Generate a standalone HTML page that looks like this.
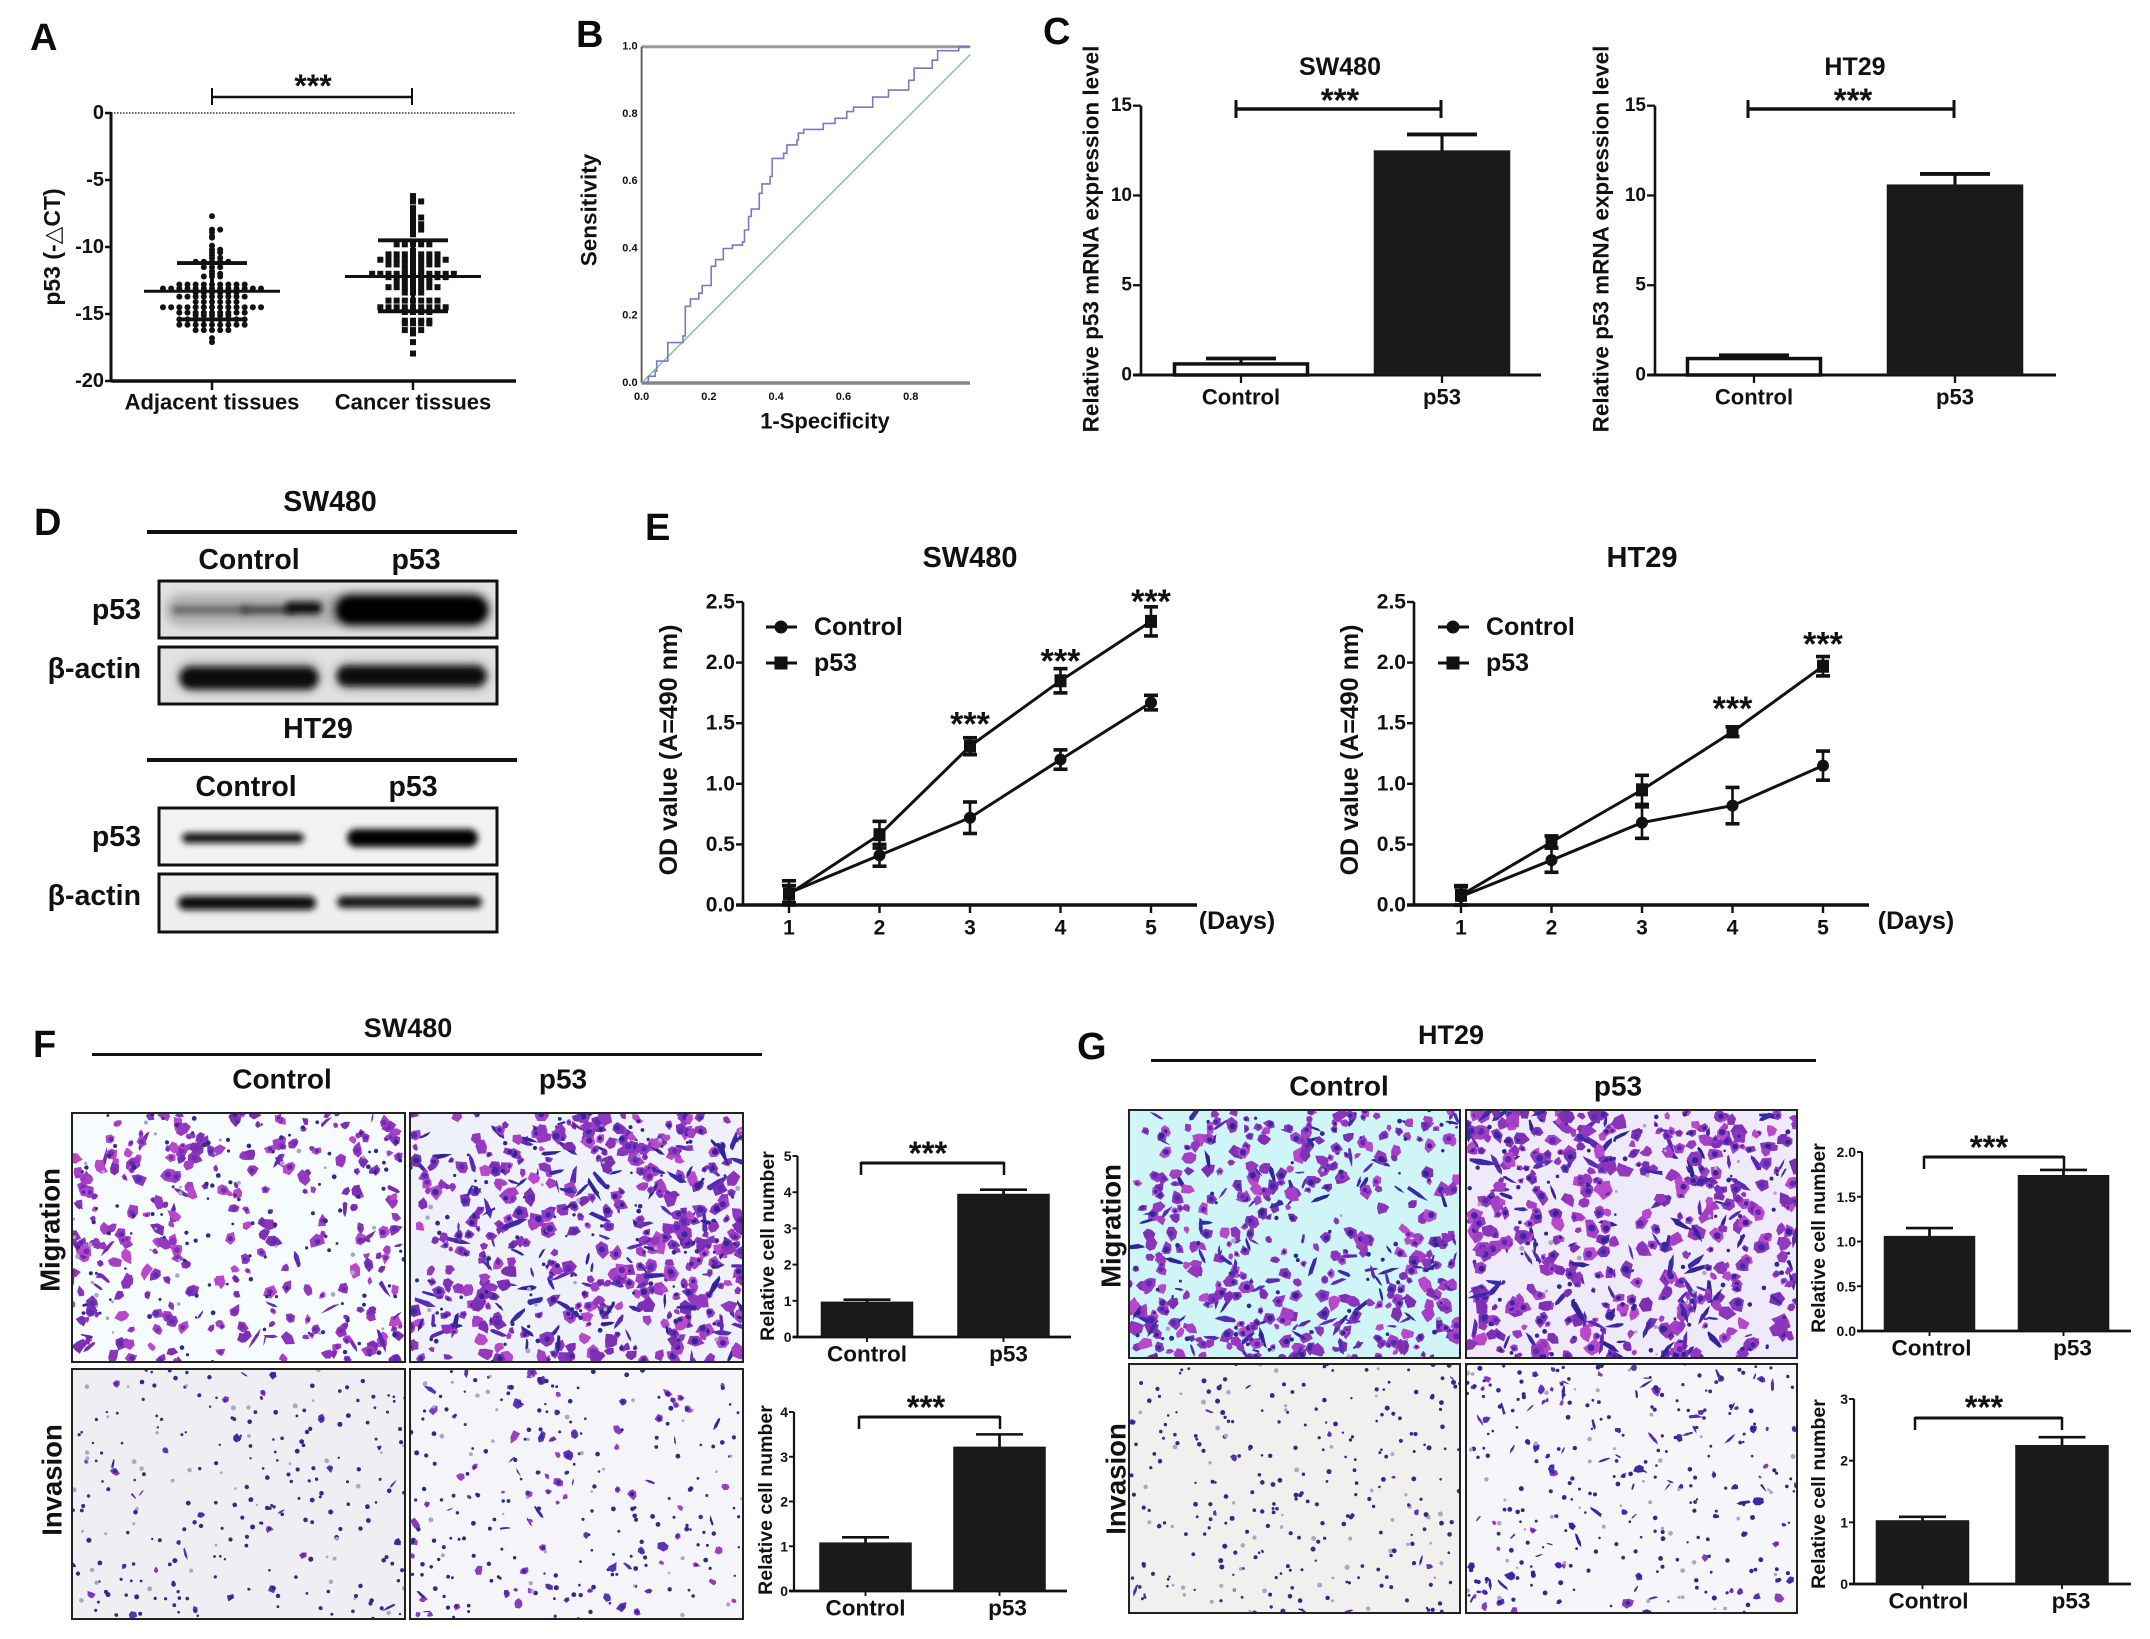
<!DOCTYPE html>
<html lang="en">
<head>
<meta charset="utf-8">
<title>p53 expression figure</title>
<style>
html,body{margin:0;padding:0;background:#fff;}
#figure{display:block;width:2150px;height:1639px;}
text{font-family:"Liberation Sans","DejaVu Sans",sans-serif;font-weight:bold;fill:#111;}
.panel{font-size:38px;fill:#0c0c0c;}
.head{font-size:28.5px;text-anchor:middle;dominant-baseline:central;}
.title{font-size:25px;text-anchor:middle;dominant-baseline:central;}
.side{font-size:28.5px;text-anchor:end;dominant-baseline:central;}
.rot{text-anchor:middle;dominant-baseline:central;}
</style>
</head>
<body>
<svg id="figure" xmlns="http://www.w3.org/2000/svg" width="2150" height="1639" viewBox="0 0 2150 1639">
  <defs>
    <filter id="blur1" x="-30%" y="-100%" width="160%" height="300%"><feGaussianBlur stdDeviation="1.6"/></filter>
    <filter id="blur2" x="-30%" y="-100%" width="160%" height="300%"><feGaussianBlur stdDeviation="3.2"/></filter>
    <filter id="blur3" x="-30%" y="-100%" width="160%" height="300%"><feGaussianBlur stdDeviation="5"/></filter>
  </defs>
  <rect x="0" y="0" width="2150" height="1639" fill="#fff"/>

  <text class="panel" x="30" y="50">A</text>
  <text class="panel" x="576" y="47">B</text>
  <text class="panel" x="1043" y="44">C</text>
  <text class="panel" x="34" y="535">D</text>
  <text class="panel" x="645" y="540">E</text>
  <text class="panel" x="33" y="1057">F</text>
  <text class="panel" x="1077" y="1059">G</text>

  <!-- Panel A labels -->
  <text class="rot" font-size="23" transform="translate(52 247) rotate(-90)">p53 (-△CT)</text>

  <!-- Panel B labels -->
  <text class="rot" font-size="22.5" transform="translate(589 210) rotate(-90)">Sensitivity</text>
  <text class="rot" font-size="22" x="825" y="421">1-Specificity</text>

  <!-- Panel C labels -->
  <text class="title" x="1340" y="67">SW480</text>
  <text class="title" x="1855" y="67">HT29</text>
  <text class="rot" font-size="22.5" transform="translate(1091 239) rotate(-90)">Relative p53 mRNA expression level</text>
  <text class="rot" font-size="22.5" transform="translate(1601 239) rotate(-90)">Relative p53 mRNA expression level</text>

  <!-- Panel D -->
  <text class="head" x="330" y="502">SW480</text>
  <rect x="147" y="530" width="370" height="4" fill="#111"/>
  <text class="head" x="249" y="560">Control</text>
  <text class="head" x="416" y="560">p53</text>
  <text class="side" x="141" y="610">p53</text>
  <text class="side" x="141" y="669">β-actin</text>
  <text class="head" x="318" y="729">HT29</text>
  <rect x="147" y="758" width="370" height="4" fill="#111"/>
  <text class="head" x="246" y="787">Control</text>
  <text class="head" x="413" y="787">p53</text>
  <text class="side" x="141" y="837">p53</text>
  <text class="side" x="141" y="896">β-actin</text>

  <!-- Panel E titles -->
  <text class="title" x="976" y="558" style="font-size:29px" transform="translate(-6 0)">SW480</text>
  <text class="title" x="1642" y="558" style="font-size:29px">HT29</text>
  <text class="rot" font-size="25" transform="translate(669 750) rotate(-90)">OD value (A=490 nm)</text>
  <text class="rot" font-size="25" transform="translate(1350 750) rotate(-90)">OD value (A=490 nm)</text>
  <text class="rot" font-size="25" x="1237" y="921">(Days)</text>
  <text class="rot" font-size="25" x="1916" y="921">(Days)</text>

  <!-- Panel F heads -->
  <text class="head" x="408" y="1028" style="font-size:27px">SW480</text>
  <rect x="92" y="1053" width="670" height="3" fill="#111"/>
  <text class="head" x="282" y="1079" style="font-size:28px">Control</text>
  <text class="head" x="563" y="1079" style="font-size:28px">p53</text>
  <text class="rot" font-size="27.5" transform="translate(50 1230) rotate(-90)">Migration</text>
  <text class="rot" font-size="27.5" transform="translate(52 1480) rotate(-90)">Invasion</text>

  <!-- Panel G heads -->
  <text class="head" x="1451" y="1035" style="font-size:27px">HT29</text>
  <rect x="1151" y="1059" width="665" height="3" fill="#111"/>
  <text class="head" x="1339" y="1086" style="font-size:28px">Control</text>
  <text class="head" x="1618" y="1086" style="font-size:28px">p53</text>
  <text class="rot" font-size="27.5" transform="translate(1111 1226) rotate(-90)">Migration</text>
  <text class="rot" font-size="27.5" transform="translate(1116 1479) rotate(-90)">Invasion</text>

  <g id="photos"></g>
  <g id="blots"></g>
  <g id="charts"></g>
</svg>

<script>
/* ---------- Panel A data ---------- */
const scatterCategories = ['Adjacent tissues', 'Cancer tissues'];
const scatterTicks = ['0', '-5', '-10', '-15', '-20'];
const adjacentValues = [-7.7,-8.7,-8.7,-8.9,-9.2,-9.3,-9.9,-10.2,-10.2,-10.4,-10.4,-10.6,-10.8,-10.8,
  -11.1,-11.1,-11.1,-11.1,-11.1,-11.5,-11.5,-11.5,-11.8,-12,-12,-12.2,-12.2,-12.2,
  -12.8,-12.8,-12.8,-12.8,-12.8,-12.8,-12.8,-12.8,-12.8,
  -13.1,-13.1,-13.1,-13.1,-13.1,-13.1,-13.1,-13.1,-13.1,-13.1,-13.1,-13.1,-13.1,
  -13.4,-13.4,-13.4,-13.4,-13.4,-13.4,-13.7,-13.7,-13.7,-13.7,-13.7,-13.7,-13.7,-13.7,-13.7,
  -14.1,-14.1,-14.1,-14.1,-14.1,-14.1,
  -14.5,-14.5,-14.5,-14.5,-14.5,-14.5,-14.5,-14.5,-14.5,-14.5,-14.5,-14.5,-14.5,
  -14.9,-14.9,-14.9,-14.9,-14.9,-14.9,-14.9,-14.9,-14.9,-15.1,-15.1,-15.1,-15.1,-15.1,
  -15.4,-15.4,-15.4,-15.4,-15.4,-15.4,-15.4,-15.4,-15.4,
  -15.8,-15.8,-15.8,-15.8,-15.8,-15.8,-15.8,-15.8,-15.8,
  -16.2,-16.2,-16.2,-16.2,-16.2,-16.8,-17.1];
const cancerValues = [-6.2,-6.4,-6.6,-6.6,-7.1,-7.4,-7.8,-7.8,-7.9,-8.3,-8.3,-8.7,-8.7,-9.05,
  -9.8,-9.8,-9.8,-9.8,-9.8,-10.3,
  -10.55,-10.55,-10.55,-10.55,-10.55,-10.55,-10.55,
  -10.95,-10.95,-10.95,-10.95,-10.95,-10.95,-10.95,-10.95,-10.95,
  -11.3,-11.3,-11.3,-11.3,-11.3,-11.3,-11.3,-11.7,-11.7,-11.7,
  -12,-12,-12,-12,-12,-12,-12,-12,-12,-12,-12,
  -12.25,-12.25,-12.25,-12.25,-12.25,-12.25,-12.25,-12.25,
  -12.6,-12.6,-12.6,-12.6,-12.6,-13,-13,-13,-13,-13,-13,-13,-13.4,-13.4,-13.4,
  -14,-14,-14,-14,-14,-14,-14,-14.5,-14.5,-14.5,-14.5,-14.5,-14.5,-14.5,-14.5,-14.5,
  -14.85,-14.85,-14.85,-14.85,-15.5,-15.5,-15.5,-15.5,-15.7,-15.7,-15.7,-15.7,
  -16.2,-16.2,-16.2,-16.45,-17.1,-17.95];
const scatterMeans = [-13.3, -12.2];
const scatterUpper = [-11.2, -9.5];
const scatterLower = [-15.4, -14.8];

/* ---------- Panel B data ---------- */
const rocTicks = ['0.0', '0.2', '0.4', '0.6', '0.8', '1.0'];
const rocFpr = [0,.02,.04,.045,.078,.123,.13,.145,.17,.18,.207,.22,.243,.27,.30,.306,.318,.326,.35,.358,.382,.388,.422,.432,.462,.466,.482,.54,.575,.61,.63,.687,.734,.794,.81,.864,.88,.943,.977];
const rocSens = [0,.02,.035,.065,.12,.14,.228,.25,.267,.29,.347,.367,.40,.41,.42,.455,.495,.517,.564,.592,.614,.668,.683,.708,.723,.743,.754,.772,.787,.807,.82,.85,.871,.9,.936,.96,.988,1,1];
const rocReference = [0, .977];

/* ---------- Panel C data ---------- */
const barCategories = ['Control', 'p53'];
const qpcrTicks = ['0', '5', '10', '15'];
const qpcrSwValues = [0.7, 12.5];
const qpcrSwErrors = [0.22, 0.9];
const qpcrHtValues = [1.0, 10.6];
const qpcrHtErrors = [0.1, 0.6];

/* ---------- Panel E data ---------- */
const dayTicks = ['1', '2', '3', '4', '5'];
const odTicks = ['0.0', '0.5', '1.0', '1.5', '2.0', '2.5'];
const odSwControl = [0.1, 0.41, 0.72, 1.2, 1.67];
const odSwControlErr = [0.1, 0.09, 0.13, 0.08, 0.06];
const odSwP53 = [0.09, 0.58, 1.31, 1.85, 2.34];
const odSwP53Err = [0.07, 0.11, 0.07, 0.1, 0.12];
const odSwStarDays = [3, 4, 5];
const odSwStarLevels = [1.53, 2.05, 2.54];
const odHtControl = [0.07, 0.37, 0.68, 0.82, 1.15];
const odHtControlErr = [0.08, 0.1, 0.13, 0.15, 0.12];
const odHtP53 = [0.08, 0.52, 0.95, 1.43, 1.97];
const odHtP53Err = [0.08, 0.05, 0.12, 0.04, 0.08];
const odHtStarDays = [4, 5];
const odHtStarLevels = [1.66, 2.19];

/* ---------- Panels F / G data ---------- */
const cellF1Ticks = ['0', '1', '2', '3', '4', '5'];
const cellF1Values = [0.97, 3.95];
const cellF1Errors = [0.06, 0.12];
const cellF2Ticks = ['0', '1', '2', '3', '4'];
const cellF2Values = [1.08, 3.22];
const cellF2Errors = [0.12, 0.28];
const cellG1Ticks = ['0.0', '0.5', '1.0', '1.5', '2.0'];
const cellG1Values = [1.06, 1.74];
const cellG1Errors = [0.09, 0.06];
const cellG2Ticks = ['0', '1', '2', '3'];
const cellG2Values = [1.03, 2.25];
const cellG2Errors = [0.06, 0.13];

/* ---------- helpers ---------- */
const NS = 'http://www.w3.org/2000/svg';
const chartsRoot = document.getElementById('charts');
const blotsRoot = document.getElementById('blots');
const photosRoot = document.getElementById('photos');
function linear(d0, d1, r0, r1) { return v => r0 + (v - d0) * (r1 - r0) / (d1 - d0); }
function add(parent, tag, attrs, txt) {
  const el = document.createElementNS(NS, tag);
  for (const k in attrs) el.setAttribute(k, attrs[k]);
  if (txt !== undefined) el.textContent = txt;
  parent.appendChild(el);
  return el;
}
function group(parent, name) {
  const g = add(parent, 'g', {});
  
  
  return g;
}
function rule(parent, x1, y1, x2, y2, w, name, color) {
  const el = add(parent, 'line', {x1, y1, x2, y2, stroke: color || '#111', 'stroke-width': w});
  
  
  return el;
}
function label(parent, x, y, str, size, anchor, name) {
  const el = add(parent, 'text', {x, y, 'font-size': size, 'text-anchor': anchor, 'dominant-baseline': 'central'}, str);
  
  
  return el;
}
function stars(parent, cx, cy, size, name) {
  const el = add(parent, 'text', {x: cx, y: cy + size * 0.47, 'font-size': size, 'text-anchor': 'middle'}, '***');
  
  
  return el;
}

/* ---------- Panel A ---------- */
function swarm(values) {
  const seen = {};
  return values.map(v => {
    const n = seen[v] || 0;
    seen[v] = n + 1;
    return {v, slot: n === 0 ? 0 : (n % 2 ? (n + 1) / 2 : -n / 2)};
  });
}
(function drawScatter() {
  const g = group(chartsRoot, 'panel-a-scatter-plot');
  const y = linear(0, -20, 113, 381);
  const xLeft = 111, xRight = 516;
  const centers = [212, 413];
  const step = 8.17;
  const dotted = rule(g, xLeft, y(0), xRight, y(0), 1.6, 'zero-reference-line', '#333');
  dotted.setAttribute('stroke-dasharray', '1.5 1.5');
  rule(g, xLeft, y(0) - 1, xLeft, y(-20) + 1, 3, 'y-axis');
  rule(g, xLeft, y(-20), xRight, y(-20), 3.5, 'x-axis');
  scatterTicks.forEach(t => {
    const v = Number(t);
    rule(g, xLeft - 6, y(v), xLeft, y(v), 2.5, 'y-tick');
    label(g, xLeft - 7, y(v), t, 20, 'end', 'y-tick-label');
  });
  scatterCategories.forEach((c, i) => {
    rule(g, centers[i], y(-20), centers[i], y(-20) + 9, 2.5, 'x-tick');
    label(g, centers[i], 402, c, 22, 'middle', 'x-tick-label');
  });
  swarm(adjacentValues).forEach(p => {
    const dot = add(g, 'circle', {cx: centers[0] + p.slot * step, cy: y(p.v), r: 3, fill: '#111'});
    
    
  });
  swarm(cancerValues).forEach(p => {
    const sq = add(g, 'rect', {x: centers[1] + p.slot * step - 3, y: y(p.v) - 3, width: 6, height: 6, fill: '#111'});
    
    
  });
  const halfMean = 68, halfSd = 35;
  scatterMeans.forEach((m, i) => {
    rule(g, centers[i] - halfMean, y(m), centers[i] + halfMean, y(m), 3, 'mean-line');
    rule(g, centers[i], y(scatterUpper[i]), centers[i], y(scatterLower[i]), 4, 'sd-range');
    rule(g, centers[i] - halfSd, y(scatterUpper[i]), centers[i] + halfSd, y(scatterUpper[i]), 3.8, 'sd-upper-cap');
    rule(g, centers[i] - halfSd, y(scatterLower[i]), centers[i] + halfSd, y(scatterLower[i]), 3.8, 'sd-lower-cap');
  });
  rule(g, centers[0], 97, 412, 97, 2.5, 'significance-bracket');
  rule(g, centers[0], 88, centers[0], 105, 2, 'significance-bracket-end');
  rule(g, 412, 88, 412, 105, 2, 'significance-bracket-end');
  stars(g, 313, 82, 32, 'significance-stars');
})();

/* ---------- Panel B ---------- */
(function drawRoc() {
  const g = group(chartsRoot, 'panel-b-roc-curve');
  const x = linear(0, 1, 641.6, 978);
  const y = linear(0, 1, 383, 46.7);
  const right = 970;
  rule(g, x(0), y(1), right, y(1), 3, 'plot-top-border', '#999');
  rule(g, x(0), y(0), right, y(0), 3.5, 'x-axis', '#888');
  rule(g, x(0), y(0), x(0), y(1), 1.8, 'y-axis', '#555');
  rocTicks.forEach(t => {
    const v = Number(t);
    label(g, x(0) - 4, y(v), t, 11, 'end', 'y-tick-label');
    if (v < 1) label(g, x(v), 397, t, 11, 'middle', 'x-tick-label');
  });
  const ref = rule(g, x(rocReference[0]), y(rocReference[0]), x(rocReference[1]), y(rocReference[1]), 1.6, 'chance-diagonal', '#8ec89c');
  ref.setAttribute('fill', 'none');
  let d = 'M' + x(rocFpr[0]) + ' ' + y(rocSens[0]);
  rocFpr.forEach((f, i) => {
    if (i === 0) return;
    d += ' H' + x(f).toFixed(1) + ' V' + y(rocSens[i]).toFixed(1);
  });
  const curve = add(g, 'path', {d, fill: 'none', stroke: '#767cbe', 'stroke-width': 1.6});
  
  
})();

/* ---------- bar charts ---------- */
function drawBars(c) {
  const g = group(chartsRoot, c.name);
  const top = Number(c.ticks[c.ticks.length - 1]);
  const y = linear(0, top, c.y0, c.yTop);
  const cx = i => c.x0 + i * c.step;
  rule(g, c.axis, c.y0 + 1, c.axis, c.yTop, c.axisW, 'y-axis');
  rule(g, c.axis - c.tick, c.y0, c.xEnd, c.y0, c.axisW + 0.5, 'x-axis');
  c.ticks.forEach(t => {
    const v = Number(t);
    rule(g, c.axis - c.tick, y(v), c.axis, y(v), c.axisW - 0.3, 'y-tick');
    label(g, c.axis - c.tick - 1, y(v), t, c.tickFont, 'end', 'y-tick-label');
  });
  c.cats.forEach((cat, i) => {
    const v = c.vals[i], top2 = y(v + c.errs[i]);
    rule(g, cx(i), top2, cx(i), y(v), c.axisW + 0.5, 'error-bar');
    rule(g, cx(i) - c.cap / 2, top2, cx(i) + c.cap / 2, top2, c.capW, 'error-bar-cap');
    const hollow = c.hollow && i === 0;
    const b = add(g, 'rect', {
      x: cx(i) - c.barW / 2 + (hollow ? 1.5 : 0), y: y(v) + (hollow ? 1.5 : 0),
      width: c.barW - (hollow ? 3 : 0), height: c.y0 - y(v) - (hollow ? 1.5 : 0),
      fill: hollow ? '#fff' : '#1a1a1a', stroke: '#111', 'stroke-width': hollow ? 3.5 : 0.5
    });
    
    
    rule(g, cx(i), c.y0, cx(i), c.y0 + c.xTick, c.axisW - 0.3, 'x-tick');
    label(g, cx(i) + (c.labelShift ? c.labelShift[i] : 0), c.y0 + c.labelOff, cat, c.catFont, 'middle', 'x-tick-label');
  });
  const br = c.bracket;
  rule(g, br.x1, br.y, br.x2, br.y, br.w, 'significance-bracket');
  rule(g, br.x1, br.top, br.x1, br.bottom, br.w - 0.5, 'significance-bracket-end');
  rule(g, br.x2, br.top, br.x2, br.bottom, br.w - 0.5, 'significance-bracket-end');
  stars(g, br.starX, br.starY, c.starFont, 'significance-stars');
  if (c.yTitle) {
    const yt = add(g, 'text', {'font-size': c.yTitle.size, 'text-anchor': 'middle', 'dominant-baseline': 'central',
      transform: 'translate(' + c.yTitle.x + ' ' + c.yTitle.y + ') rotate(-90)'}, 'Relative cell number');
    
    
  }
}
const qpcrStyle = {cats: barCategories, ticks: qpcrTicks, y0: 375, yTop: 105.7, tick: 8, xTick: 8, axisW: 2.6, barW: 136, cap: 70, capW: 3.8, tickFont: 19, catFont: 22, labelOff: 22, starFont: 33, hollow: true};
drawBars(Object.assign({}, qpcrStyle, {name: 'panel-c-sw480-bar-chart', vals: qpcrSwValues, errs: qpcrSwErrors, axis: 1141, xEnd: 1541, x0: 1241, step: 201,
  bracket: {x1: 1236, x2: 1441, y: 109, top: 100, bottom: 118, w: 3.5, starX: 1340, starY: 96}}));
drawBars(Object.assign({}, qpcrStyle, {name: 'panel-c-ht29-bar-chart', vals: qpcrHtValues, errs: qpcrHtErrors, axis: 1655, xEnd: 2056, x0: 1754, step: 201,
  bracket: {x1: 1748, x2: 1954, y: 109, top: 100, bottom: 118, w: 3.5, starX: 1853, starY: 96}}));
const cellStyle = {cats: barCategories, tick: 5, xTick: 5, axisW: 2.2, cap: 47, capW: 2.6, tickFont: 14, catFont: 22.5, labelOff: 17, starFont: 33, barW: 92};
drawBars(Object.assign({}, cellStyle, {name: 'panel-f-migration-bar-chart', ticks: cellF1Ticks, vals: cellF1Values, errs: cellF1Errors, axis: 797.5, xEnd: 1071, x0: 867, step: 136.5, y0: 1337, yTop: 1156,
  labelShift: [0, 5], yTitle: {x: 768, y: 1246, size: 19.5},
  bracket: {x1: 861, x2: 1004, y: 1163, top: 1162, bottom: 1175, w: 3, starX: 928, starY: 1149}}));
drawBars(Object.assign({}, cellStyle, {name: 'panel-f-invasion-bar-chart', ticks: cellF2Ticks, vals: cellF2Values, errs: cellF2Errors, axis: 794, xEnd: 1067, x0: 865.5, step: 134, y0: 1591, yTop: 1412,
  labelShift: [0, 8], yTitle: {x: 766, y: 1500, size: 19.5},
  bracket: {x1: 859, x2: 1000, y: 1417, top: 1416, bottom: 1429, w: 3, starX: 926, starY: 1403}}));
drawBars(Object.assign({}, cellStyle, {name: 'panel-g-migration-bar-chart', ticks: cellG1Ticks, vals: cellG1Values, errs: cellG1Errors, axis: 1862, xEnd: 2131, x0: 1929.5, step: 134, y0: 1331, yTop: 1152, barW: 91,
  labelShift: [2, 9], yTitle: {x: 1819, y: 1238, size: 19.5},
  bracket: {x1: 1924, x2: 2064, y: 1157, top: 1156, bottom: 1169, w: 3, starX: 1989, starY: 1143}}));
drawBars(Object.assign({}, cellStyle, {name: 'panel-g-invasion-bar-chart', ticks: cellG2Ticks, vals: cellG2Values, errs: cellG2Errors, axis: 1854, xEnd: 2131, x0: 1922.5, step: 139.5, y0: 1584, yTop: 1399, barW: 93,
  labelShift: [6, 9], yTitle: {x: 1819, y: 1494, size: 19.5},
  bracket: {x1: 1915, x2: 2062, y: 1418, top: 1417, bottom: 1430, w: 3, starX: 1984, starY: 1403}}));

/* ---------- Panel E line charts ---------- */
function drawLines(c) {
  const g = group(chartsRoot, c.name);
  const y = linear(0, 2.5, 905, 602);
  const x = linear(1, 5, c.x1, c.x5);
  rule(g, c.axis, 906, c.axis, 602, 2.6, 'y-axis');
  rule(g, c.axis - 7, 905, c.xEnd, 905, 3.5, 'x-axis');
  odTicks.forEach(t => {
    rule(g, c.axis - 7, y(Number(t)), c.axis, y(Number(t)), 2.4, 'y-tick');
    label(g, c.axis - 8, y(Number(t)), t, 21, 'end', 'y-tick-label');
  });
  dayTicks.forEach(t => {
    rule(g, x(Number(t)), 905, x(Number(t)), 913, 2.4, 'x-tick');
    label(g, x(Number(t)), 928, t, 21, 'middle', 'x-tick-label');
  });
  function series(vals, errs, kind) {
    const s = group(g, 'series-' + kind);
    const pts = vals.map((v, i) => x(i + 1).toFixed(1) + ',' + y(v).toFixed(1)).join(' ');
    const pl = add(s, 'polyline', {points: pts, fill: 'none', stroke: '#111', 'stroke-width': 3});
    
    
    vals.forEach((v, i) => {
      const px = x(i + 1);
      const lo = Math.max(v - errs[i], 0);
      rule(s, px, y(v + errs[i]), px, y(lo), 2.6, kind + '-error-bar');
      rule(s, px - 7, y(v + errs[i]), px + 7, y(v + errs[i]), 3.6, kind + '-error-cap');
      rule(s, px - 7, y(lo), px + 7, y(lo), 3.6, kind + '-error-cap');
      let m;
      if (kind === 'control') m = add(s, 'circle', {cx: px, cy: y(v), r: 6, fill: '#111'});
      else m = add(s, 'rect', {x: px - 6, y: y(v) - 6.5, width: 12, height: 13, fill: '#111'});
      
      
    });
  }
  series(c.control, c.controlErr, 'control');
  series(c.p53, c.p53Err, 'p53');
  c.starDays.forEach((d, i) => stars(g, x(d), y(c.starLevels[i]), 34, 'significance-stars'));
  rule(g, c.legendX - 15, 627, c.legendX + 16, 627, 3, 'legend-control-line');
  const m1 = add(g, 'circle', {cx: c.legendX, cy: 627, r: 6.5, fill: '#111'});
  
  
  label(g, c.legendX + 33, 627, 'Control', 25, 'start', 'legend-control-label');
  rule(g, c.legendX - 15, 663, c.legendX + 16, 663, 3, 'legend-p53-line');
  const m2 = add(g, 'rect', {x: c.legendX - 6.5, y: 656.5, width: 13, height: 13, fill: '#111'});
  
  
  label(g, c.legendX + 33, 663, 'p53', 25, 'start', 'legend-p53-label');
}
drawLines({name: 'panel-e-sw480-line-chart', axis: 743, xEnd: 1197, x1: 789, x5: 1151, legendX: 781,
  control: odSwControl, controlErr: odSwControlErr, p53: odSwP53, p53Err: odSwP53Err, starDays: odSwStarDays, starLevels: odSwStarLevels});
drawLines({name: 'panel-e-ht29-line-chart', axis: 1414, xEnd: 1869, x1: 1461, x5: 1823, legendX: 1453,
  control: odHtControl, controlErr: odHtControlErr, p53: odHtP53, p53Err: odHtP53Err, starDays: odHtStarDays, starLevels: odHtStarLevels});

/* ---------- Panel D western blots ---------- */
function blot(name, x, y, w, h, bg, bands) {
  const g = group(blotsRoot, name);
  const clipId = name + '-clip';
  const cp = add(blotsRoot, 'clipPath', {id: clipId});
  add(cp, 'rect', {x, y, width: w, height: h});
  const inner = add(g, 'g', {'clip-path': 'url(#' + clipId + ')'});
  const back = add(inner, 'rect', {x, y, width: w, height: h, fill: bg});
  
  
  bands.forEach(b => {
    const band = add(inner, 'rect', {x: b[0], y: b[1] - b[3], width: b[2] - b[0], height: b[3] * 2, rx: b[3], ry: b[3], fill: b[4], filter: 'url(#' + b[5] + ')'});
    
    
  });
  const frame = add(g, 'rect', {x, y, width: w, height: h, fill: 'none', stroke: '#111', 'stroke-width': 3});
  
  
}
blot('p53-blot-sw480', 159, 581, 338, 57, '#e2e2e2', [
  [165, 610, 490, 16, '#b0b0b0', 'blur3'],
  [172, 610, 250, 4, '#666', 'blur2'], [240, 610, 295, 4, '#444', 'blur2'], [285, 608, 322, 6, '#0a0a0a', 'blur2'],
  [335, 610, 488, 15, '#050505', 'blur3'], [340, 610, 484, 10, '#000', 'blur2']]);
blot('actin-blot-sw480', 159, 647, 338, 57, '#e2e2e2', [
  [176, 677, 322, 16, '#a8a8a8', 'blur3'], [334, 676, 490, 15, '#a8a8a8', 'blur3'],
  [180, 678, 318, 11, '#0a0a0a', 'blur2'], [337, 676, 486, 10, '#0a0a0a', 'blur2']]);
blot('p53-blot-ht29', 159, 808, 338, 57, '#f2f2f2', [
  [182, 838, 304, 5, '#101010', 'blur2'], [347, 838, 478, 9, '#040404', 'blur2']]);
blot('actin-blot-ht29', 159, 874, 338, 58, '#efefef', [
  [178, 903, 316, 7, '#101010', 'blur2'], [337, 902, 482, 6, '#161616', 'blur2']]);

/* ---------- Panels F / G micrograph texture (decorative stain pattern, not data) ---------- */
function rng(seed) {
  return function () {
    seed |= 0; seed = seed + 0x6D2B79F5 | 0;
    let t = Math.imul(seed ^ seed >>> 15, 1 | seed);
    t = t + Math.imul(t ^ t >>> 7, 61 | t) ^ t;
    return ((t ^ t >>> 14) >>> 0) / 4294967296;
  };
}
function photo(name, x, y, w, h, bg, rows, opt) {
  const g = group(photosRoot, name);
  const clipId = name + '-clip';
  const cp = add(photosRoot, 'clipPath', {id: clipId});
  add(cp, 'rect', {x, y, width: w, height: h});
  const inner = add(g, 'g', {'clip-path': 'url(#' + clipId + ')'});
  const back = add(inner, 'rect', {x, y, width: w, height: h, fill: bg});
  
  
  const r = rng(opt.seed);
  const sample = () => {
    for (let k = 0; k < 60; k++) {
      const u = r(), v = r();
      const row = rows[Math.floor(v * rows.length)];
      const d = Number(row[Math.floor(u * row.length)]);
      if (r() * 9 < d) return [x + u * w, y + v * h];
    }
    return [x + r() * w, y + r() * h];
  };
  for (let i = 0; i < opt.cells; i++) {
    const p = sample();
    const long = r() < opt.spindle;
    const base = opt.size * (0.55 + r() * 0.8);
    const sx = long ? 1.5 : 1;
    const sy = long ? 0.35 : 0.85;
    const rot = r() * Math.PI;
    const count = 5 + Math.floor(r() * 3);
    const pts = [];
    for (let k = 0; k < count; k++) {
      const a = k / count * Math.PI * 2;
      const rad = base * (0.6 + r() * 0.7);
      const ex = Math.cos(a) * rad * sx, ey = Math.sin(a) * rad * sy;
      pts.push((p[0] + ex * Math.cos(rot) - ey * Math.sin(rot)).toFixed(1) + ',' + (p[1] + ex * Math.sin(rot) + ey * Math.cos(rot)).toFixed(1));
    }
    const color = long ? opt.dark[Math.floor(r() * opt.dark.length)] : opt.colors[Math.floor(r() * opt.colors.length)];
    const cell = add(inner, 'polygon', {points: pts.join(' '), fill: color});
    
    
    if (!long && base > 3.2 && r() < 0.55) {
      const core = add(inner, 'circle', {cx: p[0].toFixed(1), cy: p[1].toFixed(1), r: (base * 0.4).toFixed(1), fill: opt.dark[Math.floor(r() * opt.dark.length)]});
      
      
    }
  }
  for (let i = 0; i < opt.dots; i++) {
    const p = sample();
    const dot = add(inner, 'circle', {cx: p[0].toFixed(1), cy: p[1].toFixed(1), r: (1.2 + r() * 1.3).toFixed(1), fill: r() < 0.22 ? '#a8a8c4' : '#2f2a8c'});
    
    
  }
  const frame = add(g, 'rect', {x, y, width: w, height: h, fill: 'none', stroke: '#222', 'stroke-width': 2});
  
  
}
const mag = ['#a43fc6', '#9338bf', '#b948cb', '#7d30b4', '#8a35bc'];
const blue = ['#3a2aa8', '#2f2596', '#5a2cb4'];
const uni = ['444444', '444444', '444444', '444444', '444444', '444444'];
photo('f-migration-control', 72, 1113, 333, 249, '#f6fcfd', ['465564', '556466', '553445', '743446', '645345', '553456'], {seed: 11, cells: 300, dots: 150, size: 5.8, spindle: 0.12, colors: mag, dark: ['#7a2cb0', '#5a2cb4']});
photo('f-migration-p53', 410, 1113, 333, 249, '#eef1fa', ['267888', '688787', '678688', '687899', '678998', '788777'], {seed: 22, cells: 560, dots: 110, size: 6.4, spindle: 0.25, colors: mag, dark: blue});
photo('f-invasion-control', 72, 1369, 333, 250, '#efeef3', uni, {seed: 33, cells: 32, dots: 230, size: 3.6, spindle: 0.3, colors: ['#5b35b0', '#7d3ab8', '#3a2aa8'], dark: blue});
photo('f-invasion-p53', 410, 1369, 333, 250, '#f5f4f8', ['445445', '444644', '455544', '554454', '644464', '444444'], {seed: 44, cells: 90, dots: 200, size: 4.4, spindle: 0.1, colors: ['#8a3cc0', '#5b35b0', '#9a40c4'], dark: blue});
photo('g-migration-control', 1129, 1110, 331, 248, '#cff5f7', ['356756', '566862', '786426', '675578', '766677', '889877'], {seed: 55, cells: 480, dots: 70, size: 6, spindle: 0.25, colors: mag, dark: blue});
photo('g-migration-p53', 1466, 1110, 331, 248, '#efeafa', ['888768', '788786', '686778', '587578', '777888', '788888'], {seed: 66, cells: 520, dots: 110, size: 6.6, spindle: 0.2, colors: mag, dark: blue});
photo('g-invasion-control', 1129, 1364, 331, 249, '#f1f0ee', uni, {seed: 77, cells: 16, dots: 280, size: 3.4, spindle: 0.25, colors: ['#5b35b0', '#3a2aa8'], dark: blue});
photo('g-invasion-p53', 1466, 1364, 331, 249, '#f6f5f9', ['664445', '544454', '454544', '554454', '544444', '744444'], {seed: 88, cells: 110, dots: 230, size: 4, spindle: 0.3, colors: ['#5b35b0', '#3a2aa8', '#8a3cc0'], dark: blue});
</script>
</body>
</html>
